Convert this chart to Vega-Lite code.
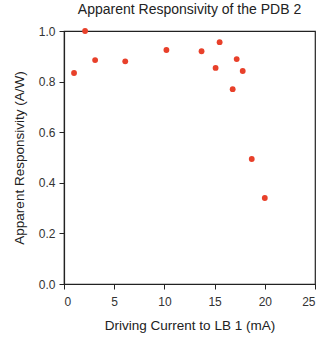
{
  "$schema": "https://vega.github.io/schema/vega-lite/v6.json",
  "autosize": "none",
  "width": 251,
  "height": 253,
  "padding": {"left": 64, "top": 31, "right": 7, "bottom": 55},
  "background": "white",
  "title": {"text": "Apparent Responsivity of the PDB 2", "font": "Liberation Sans", "fontSize": 14, "fontWeight": "normal", "color": "#222", "offset": 8},
  "config": {"view": {"stroke": "#222", "strokeWidth": 1.2}},
  "data": {"values": [
    {"x": 1.0, "y": 0.834},
    {"x": 2.1, "y": 1.0},
    {"x": 3.1, "y": 0.885},
    {"x": 6.1, "y": 0.88},
    {"x": 10.2, "y": 0.925},
    {"x": 13.7, "y": 0.92},
    {"x": 15.5, "y": 0.956},
    {"x": 15.1, "y": 0.854},
    {"x": 17.2, "y": 0.889},
    {"x": 17.8, "y": 0.842},
    {"x": 16.8, "y": 0.77},
    {"x": 18.7, "y": 0.494},
    {"x": 20.0, "y": 0.34}
  ]},
  "mark": {"type": "circle", "size": 34, "color": "#e8402a", "opacity": 1},
  "encoding": {
    "x": {"field": "x", "type": "quantitative", "title": "Driving Current to LB 1 (mA)",
      "scale": {"domain": [0, 25], "nice": false},
      "axis": {"values": [0, 5, 10, 15, 20, 25], "grid": false, "domainColor": "#222", "domainWidth": 1.2, "tickColor": "#222", "tickSize": 5,
        "labelFont": "Liberation Sans", "labelFontSize": 12, "labelColor": "#333", "labelPadding": 7,
        "titleFont": "Liberation Sans", "titleFontSize": 13.5, "titleFontWeight": "normal", "titleColor": "#222", "titlePadding": 11}},
    "y": {"field": "y", "type": "quantitative", "title": "Apparent Responsivity (A/W)",
      "scale": {"domain": [0, 1], "nice": false},
      "axis": {"values": [0, 0.2, 0.4, 0.6, 0.8, 1.0], "format": ".1f", "grid": false, "domainColor": "#222", "domainWidth": 1.2, "tickColor": "#222", "tickSize": 5,
        "labelFont": "Liberation Sans", "labelFontSize": 12, "labelColor": "#333", "labelPadding": 4,
        "titleFont": "Liberation Sans", "titleFontSize": 13.5, "titleFontWeight": "normal", "titleColor": "#222", "titlePadding": 12}}
  }
}
